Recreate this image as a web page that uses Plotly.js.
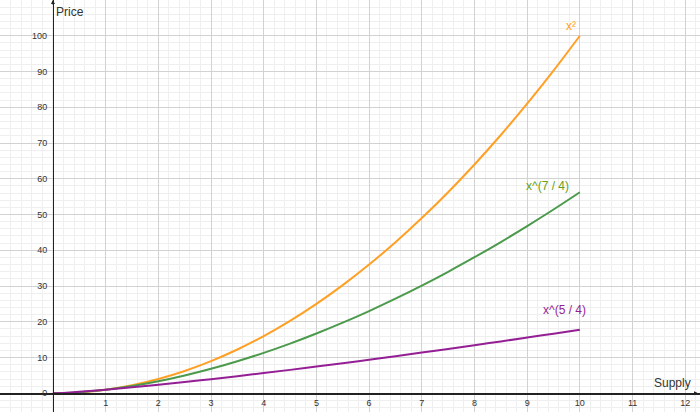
<!DOCTYPE html>
<html>
<head>
<meta charset="utf-8">
<script src="https://cdn.plot.ly/plotly-3.0.1.min.js"></script>
<style>html,body{margin:0;padding:0;background:#fff;}#chart{width:700px;height:412px;}</style>
</head>
<body>
<div id="chart"></div>
<script>
// Supply values (x) sampled along the curves
const supply = [0, 0.25, 0.5, 1, 1.5, 2, 2.5, 3, 3.5, 4, 4.5, 5, 5.5, 6, 6.5, 7, 7.5, 8, 8.5, 9, 9.5, 10];
// Price values
const priceSquare = [0, 0.06, 0.25, 1, 2.25, 4, 6.25, 9, 12.25, 16, 20.25, 25, 30.25, 36, 42.25, 49, 56.25, 64, 72.25, 81, 90.25, 100];
const priceSevenQuarter = [0, 0.09, 0.30, 1, 2.03, 3.36, 4.97, 6.84, 8.96, 11.31, 13.90, 16.72, 19.75, 23.00, 26.46, 30.12, 33.99, 38.06, 42.31, 46.77, 51.41, 56.23];
const priceFiveQuarter = [0, 0.18, 0.42, 1, 1.66, 2.38, 3.14, 3.95, 4.79, 5.66, 6.55, 7.48, 8.42, 9.39, 10.38, 11.39, 12.41, 13.45, 14.51, 15.59, 16.68, 17.78];

const seriesNames = ["x²", "x^(7 / 4)", "x^(5 / 4)"];
const xTickVals = [1, 2, 3, 4, 5, 6, 7, 8, 9, 10, 11, 12];
const yTickVals = [0, 10, 20, 30, 40, 50, 60, 70, 80, 90, 100];

const traces = [
  {x: supply, y: priceSquare, mode: 'lines', line: {color: '#FFA024', width: 2, shape: 'spline'}, name: seriesNames[0], hoverinfo: 'skip'},
  {x: supply, y: priceSevenQuarter, mode: 'lines', line: {color: '#4C9A4C', width: 2, shape: 'spline'}, name: seriesNames[1], hoverinfo: 'skip'},
  {x: supply, y: priceFiveQuarter, mode: 'lines', line: {color: '#941F94', width: 2, shape: 'spline'}, name: seriesNames[2], hoverinfo: 'skip'}
];

const xr = [-1.005, 12.28];
const yr = [-5.23, 110.0];

const layout = {
  width: 700, height: 412,
  margin: {l: 0, r: 0, t: 0, b: 0},
  paper_bgcolor: '#fff', plot_bgcolor: '#fff',
  showlegend: false,
  font: {family: 'Arial, Liberation Sans, sans-serif', color: '#333', size: 9},
  xaxis: {
    range: xr, tickmode: 'array', tickvals: xTickVals, ticktext: xTickVals.map(String),
    showgrid: true, gridcolor: '#d2d2d2', gridwidth: 1,
    minor: {dtick: 0.2, showgrid: true, gridcolor: '#efefef', gridwidth: 1},
    zeroline: false, showline: true, linecolor: '#222', linewidth: 1.3,
    anchor: 'free', position: (0 - yr[0]) / (yr[1] - yr[0]),
    ticks: '', ticklabelstandoff: 1,
    tickfont: {size: 9, color: '#333'}, fixedrange: true
  },
  yaxis: {
    range: yr, tickmode: 'array', tickvals: yTickVals, ticktext: yTickVals.map(String),
    showgrid: true, gridcolor: '#d2d2d2', gridwidth: 1,
    minor: {dtick: 2, showgrid: true, gridcolor: '#efefef', gridwidth: 1},
    zeroline: false, showline: true, linecolor: '#222', linewidth: 1.3,
    anchor: 'free', position: (0 - xr[0]) / (xr[1] - xr[0]),
    ticks: '', ticklabelstandoff: 4,
    tickfont: {size: 9, color: '#333'}, fixedrange: true
  },
  annotations: [
    {x: 0, y: yr[1], xref: 'x', yref: 'y', text: 'Price', showarrow: false, xanchor: 'left', yanchor: 'top', xshift: 1, yshift: -3, font: {size: 12, color: '#333'}},
    {x: xr[1], y: 0, xref: 'x', yref: 'y', text: 'Supply', showarrow: false, xanchor: 'right', yanchor: 'bottom', xshift: -7, yshift: 1, font: {size: 12, color: '#333'}},
    {x: 10, y: priceSquare[priceSquare.length - 1], xref: 'x', yref: 'y', text: seriesNames[0], showarrow: false, xanchor: 'center', yanchor: 'bottom', xshift: -9, yshift: 1, font: {size: 12, color: '#FFA024'}},
    {x: 10, y: priceSevenQuarter[priceSevenQuarter.length - 1], xref: 'x', yref: 'y', text: seriesNames[1], showarrow: false, xanchor: 'center', yanchor: 'bottom', xshift: -32, yshift: -3, font: {size: 12, color: '#66A020'}},
    {x: 10, y: priceFiveQuarter[priceFiveQuarter.length - 1], xref: 'x', yref: 'y', text: seriesNames[2], showarrow: false, xanchor: 'center', yanchor: 'bottom', xshift: -15, yshift: 11, font: {size: 12, color: '#941F94'}},
    {x: 0, y: yr[1], xref: 'x', yref: 'y', ax: 0, ay: 6, text: '', showarrow: true, arrowhead: 2, arrowsize: 0.8, arrowwidth: 1, arrowcolor: '#222', standoff: 0},
    {x: xr[1], y: 0, xref: 'x', yref: 'y', ax: -6, ay: 0, text: '', showarrow: true, arrowhead: 2, arrowsize: 0.8, arrowwidth: 1, arrowcolor: '#222', standoff: 2}
  ]
};

Plotly.newPlot('chart', traces, layout, {displayModeBar: false, staticPlot: true});
</script>
</body>
</html>
